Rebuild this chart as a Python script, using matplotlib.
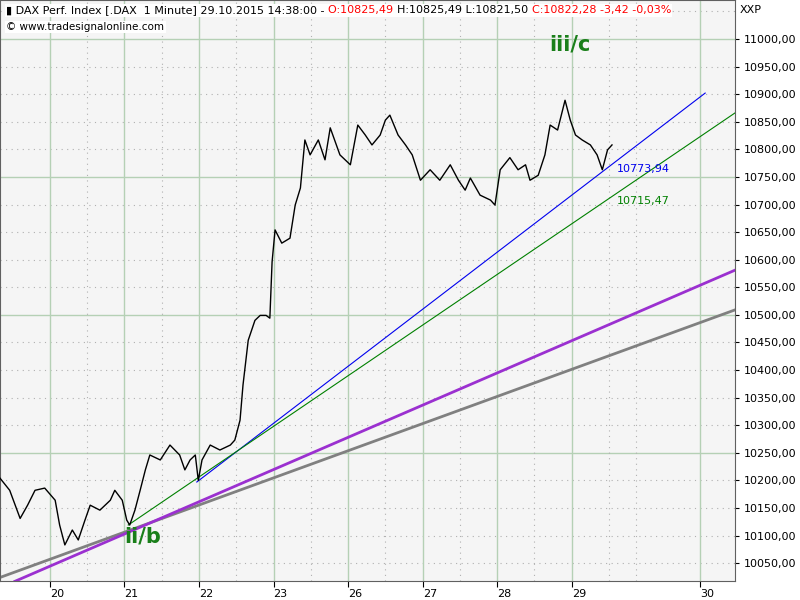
import matplotlib.pyplot as plt
import numpy as np

# price path (t in trading days since 20.10 open, price)
t = [-0.67, -0.54, -0.40, -0.30, -0.20, -0.07, 0.07, 0.13, 0.20, 0.30, 0.38, 0.47, 0.54, 0.67, 0.81, 0.87,
     0.97, 1.03, 1.07, 1.14, 1.21, 1.28, 1.34, 1.48, 1.61, 1.74, 1.81, 1.88, 1.95, 1.99, 2.04, 2.15, 2.28,
     2.42, 2.48, 2.55, 2.59, 2.66, 2.75, 2.82, 2.90, 2.95, 2.98, 3.02, 3.11, 3.22, 3.29, 3.36, 3.42, 3.49,
     3.60, 3.69, 3.76, 3.89, 4.03, 4.13, 4.23, 4.32, 4.43, 4.50, 4.56, 4.67, 4.77, 4.86, 4.97, 5.10, 5.23,
     5.37, 5.48, 5.57, 5.64, 5.77, 5.91, 5.97, 6.04, 6.17, 6.28, 6.38, 6.44, 6.55, 6.64, 6.71, 6.81, 6.91,
     6.98, 7.05, 7.14, 7.25, 7.34, 7.41, 7.48, 7.54]
price = [10204, 10182, 10131, 10155, 10182, 10186, 10164, 10119, 10083, 10110, 10092, 10128, 10155, 10146,
         10164, 10182, 10164, 10128, 10119, 10146, 10182, 10219, 10246, 10237, 10264, 10246, 10219, 10237,
         10246, 10200, 10237, 10264, 10255, 10264, 10273, 10309, 10373, 10454, 10490, 10499, 10499, 10494,
         10596, 10654, 10630, 10639, 10699, 10730, 10817, 10790, 10817, 10781, 10839, 10790, 10772, 10844,
         10826, 10808, 10826, 10853, 10862, 10826, 10808, 10790, 10744, 10763, 10744, 10772, 10744, 10726,
         10748, 10717, 10708, 10699, 10763, 10785, 10763, 10772, 10744, 10753, 10790, 10844, 10835, 10889,
         10853, 10826, 10817, 10808, 10790, 10763, 10799, 10808]

# trend lines: (t0, p0, t1, p1)
gray_line = (-0.67, 10024, 9.19, 10509)
purple_line = (-0.47, 10017, 9.19, 10581)
blue_line = (1.97, 10197, 8.79, 10902)
green_line = (1.05, 10119, 9.19, 10866)

day_pos = [0, 1, 2, 3, 4, 5, 6, 7, 8.72]
day_labels = ['20', '21', '22', '23', '26', '27', '28', '29', '30']

fig = plt.figure(figsize=(8, 6), dpi=100)
ax = fig.add_axes([0, 19 / 600, 735 / 800, 581 / 600])
ax.set_facecolor('#f5f5f5')
ax.set_xlim(-0.67, 9.19)
ax.set_ylim(10017.6, 11070.7)

# grid
for y in np.arange(10050, 11051, 50):
    if y % 250 == 0:
        ax.axhline(y, color='#b5d0b5', lw=1, zorder=0)
    else:
        ax.axhline(y, color='#b0b0b0', lw=0.8, ls=(0, (1, 4)), zorder=0)
for x in day_pos:
    ax.axvline(x, color='#b5d0b5', lw=1, zorder=0)
for x in [p + 0.5 for p in day_pos[:-1]] + [7.86]:
    ax.axvline(x, color='#b0b0b0', lw=0.8, ls=(0, (1, 4)), zorder=0)

for ln, c, w in [(gray_line, '#808080', 2), (purple_line, '#9b30d0', 2),
                 (blue_line, '#0000ee', 0.8), (green_line, '#008000', 0.8)]:
    ax.plot([ln[0], ln[2]], [ln[1], ln[3]], color=c, lw=w, zorder=2)

ax.plot(t, price, color='black', lw=1, zorder=3)

ax.text(7.6, 10765, '10773,94', color='#0000ee', fontsize=8, va='center')
ax.text(7.6, 10707, '10715,47', color='#008000', fontsize=8, va='center')
ax.text(6.98, 10980, 'iii/c', color='#1a7f1a', fontsize=15, fontweight='bold', ha='center')
ax.text(1.25, 10088, 'ii/b', color='#1a7f1a', fontsize=15, fontweight='bold', ha='center')

ax.yaxis.tick_right()
ax.set_yticks(np.arange(10050, 11001, 50))
ax.set_yticklabels([f'{v:.2f}'.replace('.', ',') for v in np.arange(10050, 11001, 50)], fontsize=8)
ax.set_xticks(day_pos)
ax.set_xticklabels(day_labels, fontsize=8, ha='left')
ax.tick_params(axis='x', length=4, pad=2)
ax.tick_params(axis='y', length=3, pad=3)
for s in ax.spines.values():
    s.set_color('#606060')

# header: pieces placed one after another
pieces = [('▮ DAX Perf. Index [.DAX  1 Minute] 29.10.2015 14:38:00 - ', 'black'),
          ('O:10825,49 ', 'red'), ('H:10825,49 L:10821,50 ', 'black'),
          ('C:10822,28 -3,42 -0,03%', 'red')]
x0 = 0.008
renderer = fig.canvas.get_renderer()
for s, c in pieces:
    tx = fig.text(x0, 0.983, s, fontsize=8, va='center', color=c,
                  bbox=dict(facecolor='white', edgecolor='none', pad=1))
    bb = tx.get_window_extent(renderer=renderer)
    x0 += bb.width / fig.bbox.width
fig.text(0.008, 0.955, '© www.tradesignalonline.com', fontsize=7.5, va='center',
         bbox=dict(facecolor='white', edgecolor='none', pad=1))
fig.text(0.925, 0.983, 'XXP', fontsize=8, va='center')

fig.savefig('out.png', dpi=100)
